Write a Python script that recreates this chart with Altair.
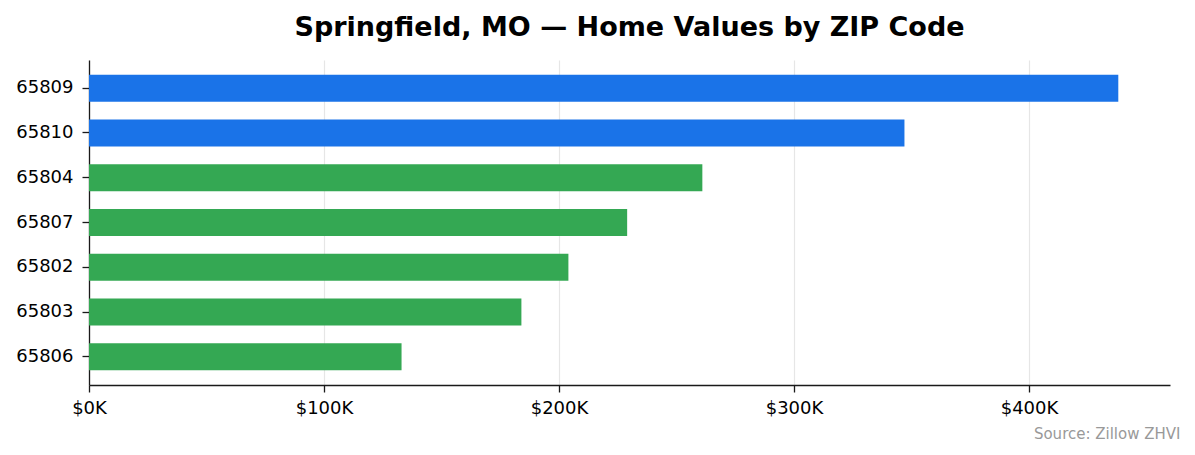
import altair as alt
import pandas as pd

zips = ["65809", "65810", "65804", "65807", "65802", "65803", "65806"]
values = [438000, 347000, 261000, 229000, 204000, 184000, 133000]
groups = ["high", "high", "mid", "mid", "mid", "mid", "mid"]
tick_values = [0, 100000, 200000, 300000, 400000]

df = pd.DataFrame({"zip": zips, "value": values, "group": groups})

FONT = "DejaVu Sans"

chart = (
    alt.Chart(df)
    .mark_bar()
    .encode(
        y=alt.Y(
            "zip:N",
            sort=zips,
            scale=alt.Scale(paddingInner=0.4, paddingOuter=0.33),
            axis=alt.Axis(
                title=None,
                grid=False,
                domainColor="#1a1a1a",
                domainWidth=1.3,
                tickColor="#1a1a1a",
                tickSize=7,
                tickWidth=1.3,
                labelPadding=9,
                labelFontSize=18,
                labelColor="#000000",
                labelFont=FONT,
            ),
        ),
        x=alt.X(
            "value:Q",
            scale=alt.Scale(domain=[0, 460000], nice=False),
            axis=alt.Axis(
                values=tick_values,
                labelExpr="'$' + format(datum.value / 1000, 'd') + 'K'",
                labelFlush=False,
                grid=True,
                gridColor="#e6e6e6",
                gridWidth=1.2,
                domainColor="#1a1a1a",
                domainWidth=1.3,
                tickColor="#1a1a1a",
                tickSize=7,
                tickWidth=1.3,
                labelPadding=7,
                labelFontSize=18,
                labelColor="#000000",
                labelFont=FONT,
                title="Source: Zillow ZHVI",
                titleFont=FONT,
                titleFontSize=15,
                titleFontWeight="normal",
                titleColor="#999999",
                titleAnchor="end",
                titleAlign="right",
                titleX=1091,
                titleY=53,
                titleBaseline="alphabetic",
            ),
        ),
        color=alt.Color(
            "group:N",
            scale=alt.Scale(domain=["high", "mid"], range=["#1a73e8", "#34a853"]),
            legend=None,
        ),
    )
    .properties(
        width=1081,
        height=325,
        background="white",
        title=alt.TitleParams(
            "Springfield, MO — Home Values by ZIP Code",
            font=FONT,
            fontSize=27,
            fontWeight="bold",
            color="#000000",
            anchor="middle",
            offset=18,
        ),
        autosize=alt.AutoSizeParams(type="none"),
        padding={"left": 81, "top": 52, "right": 10, "bottom": 60},
    )
    .configure_view(strokeWidth=0, stroke="transparent")
)

chart.save("out.html", embed_options={"renderer": "svg", "actions": False})
